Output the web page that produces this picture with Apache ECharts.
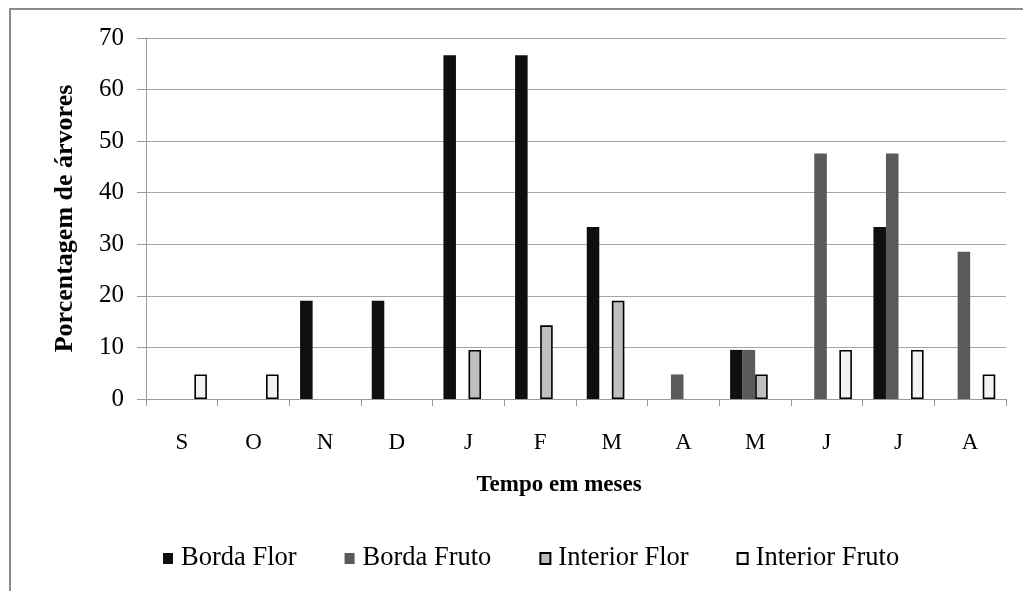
<!DOCTYPE html>
<html>
<head>
<meta charset="utf-8">
<script src="https://cdn.jsdelivr.net/npm/echarts@6/dist/echarts.min.js"></script>
<style>
  html, body { margin: 0; padding: 0; background: #ffffff; }
  #chart { width: 1023px; height: 591px; }
</style>
</head>
<body>
<div id="chart"></div>
<script>
// Months from September to August
const months = ['S', 'O', 'N', 'D', 'J', 'F', 'M', 'A', 'M', 'J', 'J', 'A'];

// Percentage of trees per phenophase
const bordaFlor     = [0, 0, 19.05, 19.05, 66.67, 66.67, 33.33, 0, 9.52, 0, 33.33, 0];
const bordaFruto    = [0, 0, 0, 0, 0, 0, 0, 4.76, 9.52, 47.62, 47.62, 28.57];
const interiorFlor  = [0, 0, 0, 0, 9.52, 14.29, 19.05, 0, 4.76, 0, 0, 0];
const interiorFruto = [4.76, 4.76, 0, 0, 0, 0, 0, 0, 0, 9.52, 9.52, 4.76];

const yTicks = [0, 10, 20, 30, 40, 50, 60, 70];

const serif = '"Liberation Serif", "DejaVu Serif", serif';

const chart = echarts.init(document.getElementById('chart'));

// Zero entries are left empty so no outline is drawn on the baseline
function barSeries(name, data, fill, border) {
  return {
    name: name,
    type: 'bar',
    data: data.map(v => (v === 0 ? null : v)),
    barGap: '0%',
    barCategoryGap: '30%',
    itemStyle: {
      color: fill,
      borderColor: border || fill,
      borderWidth: border ? 1.6 : 0
    },
    emphasis: { disabled: true }
  };
}

chart.setOption({
  animation: false,
  backgroundColor: '#ffffff',
  graphic: [{
    type: 'rect',
    shape: { x: 10, y: 9, width: 1040, height: 620 },
    style: { fill: 'none', stroke: '#8c8c8c', lineWidth: 2 },
    silent: true,
    z: -1
  }],
  grid: { left: 146, right: 17, top: 38, bottom: 192 },
  legend: {
    top: 540,
    left: 158,
    itemWidth: 10,
    itemHeight: 11,
    itemGap: 48,
    icon: 'rect',
    textStyle: { fontFamily: serif, fontSize: 26.5, color: '#000', padding: [0, 0, 0, 3] },
    data: ['Borda Flor', 'Borda Fruto', 'Interior Flor', 'Interior Fruto']
  },
  xAxis: {
    type: 'category',
    data: months,
    name: 'Tempo em meses',
    nameLocation: 'middle',
    nameGap: 75,
    nameMoveOverlap: false,
    nameTextStyle: {
      fontFamily: serif, fontSize: 23, fontWeight: 'bold', color: '#000',
      padding: [0, 34, 0, 0]
    },
    axisLine: { lineStyle: { color: '#9a9a9a', width: 1 } },
    axisTick: { show: true, length: 7, lineStyle: { color: '#9a9a9a' } },
    axisLabel: { fontFamily: serif, fontSize: 23, color: '#000', margin: 32 }
  },
  yAxis: {
    type: 'value',
    min: 0,
    max: 70,
    interval: 10,
    name: 'Porcentagem de árvores',
    nameLocation: 'middle',
    nameGap: 68,
    nameTextStyle: { fontFamily: serif, fontSize: 26, fontWeight: 'bold', color: '#000' },
    axisLine: { show: true, lineStyle: { color: '#9a9a9a', width: 1 } },
    axisTick: { show: true, length: 9, lineStyle: { color: '#9a9a9a' } },
    axisLabel: {
      fontFamily: serif, fontSize: 25, color: '#000', margin: 22,
      formatter: v => (yTicks.includes(v) ? String(v) : '')
    },
    splitLine: { lineStyle: { color: '#a6a6a6', width: 1 } }
  },
  series: [
    barSeries('Borda Flor', bordaFlor, '#0f0f0f'),
    barSeries('Borda Fruto', bordaFruto, '#5a5a5a'),
    barSeries('Interior Flor', interiorFlor, '#bfbfbf', '#000000'),
    barSeries('Interior Fruto', interiorFruto, '#f2f2f2', '#000000')
  ]
});
</script>
</body>
</html>
